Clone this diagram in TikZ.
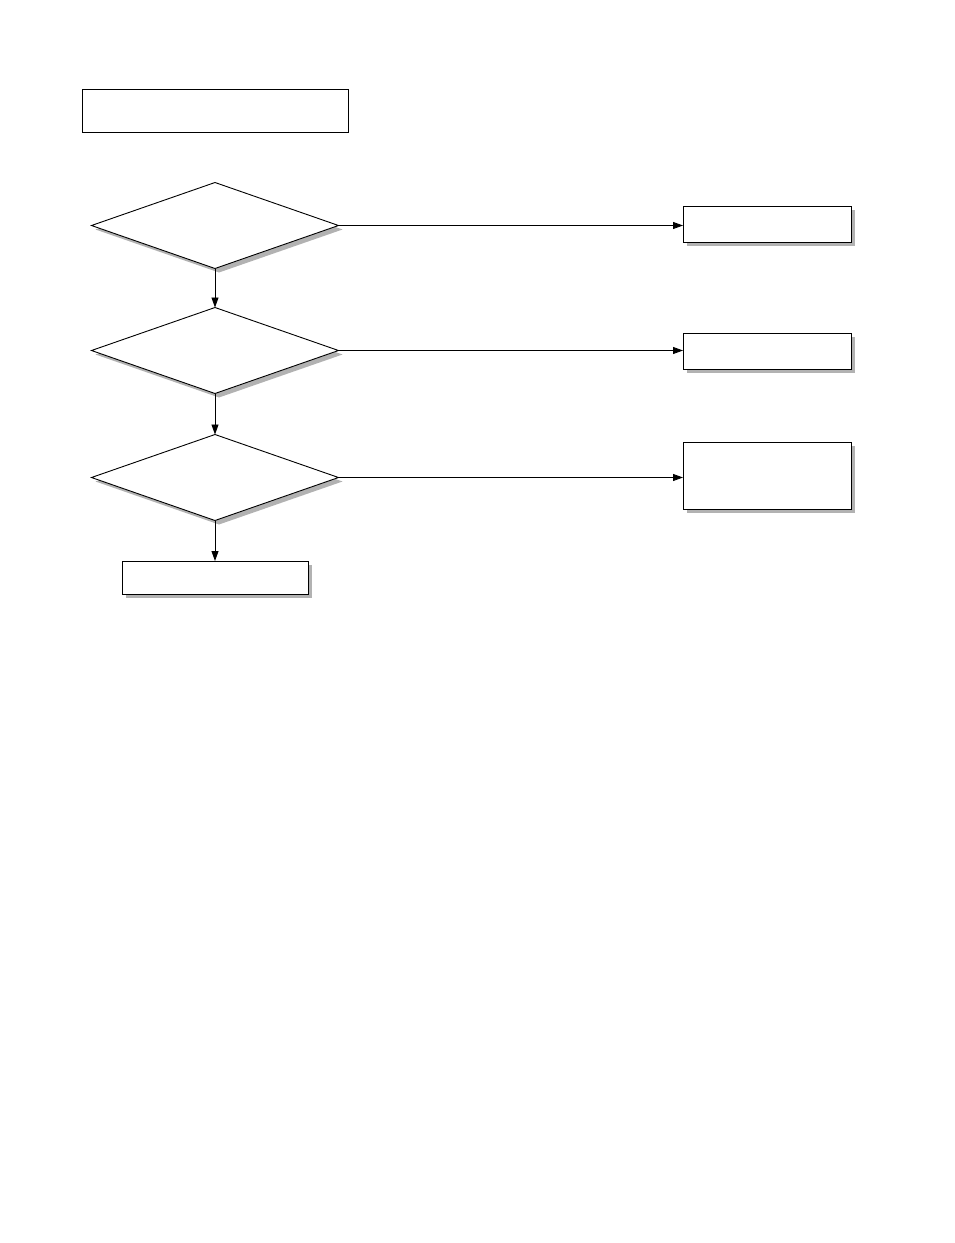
\documentclass[tikz,border=0pt]{standalone}
\usepackage{tikz}
\usetikzlibrary{arrows.meta,shapes.geometric,shadows}

\begin{document}
\begin{tikzpicture}[x=1pt,y=-1pt]
        \useasboundingbox (0,0) rectangle (954,1243);
        \begin{scope}[
            >={Triangle[black,length=10pt,width=7pt]},
            every node/.style={draw,fill=white,line width=0.9pt,inner sep=0pt,outer sep=0pt},
            shade box/.style={drop shadow={shadow xshift=4pt,shadow yshift=-4pt,fill=black!30,opacity=1}},
            box/.style={rectangle,shade box},
            query/.style={diamond,minimum width=247pt,minimum height=86pt,shade box},
            every edge/.style={draw=black,line width=0.9pt}
            ]
            \node[rectangle,minimum width=266pt,minimum height=43pt] (title) at (215, 110.5) {};
            \node[query] (q1) at (215, 225.5) {};
            \node[query] (q2) at (215, 350.5) {};
            \node[query] (q3) at (215, 477.5) {};
            \node[box,minimum width=168pt,minimum height=36pt] (r1) at (767, 224) {};
            \node[box,minimum width=168pt,minimum height=36pt] (r2) at (767, 351) {};
            \node[box,minimum width=168pt,minimum height=67pt] (r3) at (767, 475.5) {};
            \node[box,minimum width=186pt,minimum height=33pt] (done) at (215, 577.5) {};
            \path [->] (q1.east) edge (r1.west |- q1.east);
            \path [->] (q2.east) edge (r2.west |- q2.east);
            \path [->] (q3.east) edge (r3.west |- q3.east);
            \path [->] (q1) edge (q2);
            \path [->] (q2) edge (q3);
            \path [->] (q3) edge (done);
        \end{scope}
    \end{tikzpicture}
\end{document}
